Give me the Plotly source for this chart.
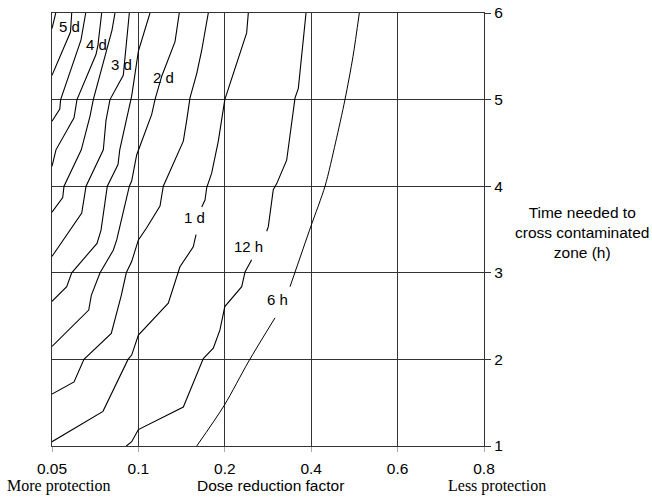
import plotly.graph_objects as go

# ---- axes ----
x_tick_pos = [0, 1, 2, 3, 4, 5]
x_tick_labels = ["0.05", "0.1", "0.2", "0.4", "0.6", "0.8"]   # dose reduction factor
y_tick_pos = [1, 2, 3, 4, 5, 6]                               # hours

# ---- iso-dose curves (x in tick-position units, y = hours; None = label gap) ----
l0_x = [0.0, 0.043]
l0_y = [5.82, 6.0]
l1_x = [0.228, 0.214, 0.0]                                   # 5 d
l1_y = [6.0, 5.78, 5.28]
l2_x = [0.390, 0.336, 0.100, 0.090, 0.0]
l2_y = [6.0, 5.69, 5.0, 4.89, 4.75]
l3_x = [0.575, 0.532, 0.509, 0.289, 0.255, 0.046, 0.0]       # 4 d
l3_y = [6.0, 5.63, 5.52, 5.0, 4.79, 4.42, 4.23]
l4_x = [0.729, 0.694, 0.478, 0.440, 0.339, 0.139, 0.124, 0.0]
l4_y = [6.0, 5.80, 5.0, 4.81, 4.42, 4.0, 3.87, 3.70]
l5_x = [0.895, 0.850, 0.825, 0.671, 0.625, 0.594, 0.394, 0.344, 0.0]   # 3 d
l5_y = [6.0, 5.52, 5.28, 5.0, 4.76, 4.42, 4.0, 3.69, 3.19]
l6_x = [1.134, 1.0, 0.922, 0.784, 0.764, 0.640, 0.567, 0.521, 0.228, 0.170, 0.0]
l6_y = [6.0, 5.56, 5.04, 4.42, 4.25, 4.0, 3.49, 3.34, 3.0, 2.84, 2.67]
l7_x = [1.473, 1.424, 1.270, 1.192, 1.154, 1.038, 0.980, 0.922, 0.895,
        0.749, 0.709, 0.556, 0.455, 0.425, 0.0]              # 2 d
l7_y = [6.0, 5.67, 5.27, 5.0, 4.83, 4.52, 4.36, 4.06, 4.0,
        3.38, 3.26, 3.0, 2.74, 2.57, 2.15]
l8_x = [1.809, 1.733, 1.675, 1.597, 1.559, 1.520, 1.288, 1.250, 1.096,
        1.0, 0.922, 0.860, 0.802, 0.686, 0.370, 0.255, 0.0]
l8_y = [6.0, 5.57, 5.30, 5.02, 4.76, 4.52, 4.0, 3.77, 3.52,
        3.38, 3.13, 3.0, 2.74, 2.30, 2.0, 1.74, 1.60]
l9_x = [2.272, 2.253, 2.0, 1.925, 1.848, 1.790, 1.771, 1.733, None,
        1.667, 1.635, 1.481, 1.462, 1.346, 1.0, 0.922, 0.880, 0.590, 0.0]   # 1 d
l9_y = [6.0, 5.77, 5.0, 4.52, 4.15, 3.98, 3.84, 3.76, None,
        3.44, 3.30, 3.07, 3.01, 2.65, 2.28, 2.05, 2.0, 1.40, 1.05]
l10_x = [2.940, 2.851, 2.813, 2.716, 2.601, 2.561, 2.503, 2.485, None,
         2.311, 2.234, 2.196, 2.0, 1.944, 1.867, 1.751, 1.713, 1.520, 1.0, 0.922, 0.860]  # 12 h
l10_y = [6.0, 5.13, 5.02, 4.30, 4.03, 3.96, 3.53, 3.48, None,
         3.15, 3.01, 2.84, 2.61, 2.34, 2.13, 2.01, 1.92, 1.45, 1.19, 1.05, 1.0]
l11_x = [3.557, 3.484, 3.391, 3.281, 3.160, 2.994, 2.755, None,
         2.581, 2.272, 1.994, 1.675]                         # 6 h
l11_y = [6.0, 5.50, 5.0, 4.50, 4.0, 3.53, 2.84, None,
         2.48, 1.97, 1.47, 1.0]

curve_labels = ["5 d", "4 d", "3 d", "2 d", "1 d", "12 h", "6 h"]

SANS = "Liberation Sans, Arial, Helvetica, sans-serif"
SERIF = "Liberation Serif, Times New Roman, serif"
GRID = "#333333"

fig = go.Figure()
poly = [(l0_x, l0_y), (l1_x, l1_y), (l2_x, l2_y), (l3_x, l3_y), (l4_x, l4_y),
        (l5_x, l5_y), (l6_x, l6_y), (l7_x, l7_y), (l8_x, l8_y), (l9_x, l9_y),
        (l10_x, l10_y)]
for xs, ys in poly:
    fig.add_trace(go.Scatter(x=xs, y=ys, mode="lines",
                             line=dict(color="black", width=1.1),
                             hoverinfo="skip", showlegend=False))
fig.add_trace(go.Scatter(x=l11_x, y=l11_y, mode="lines",
                         line=dict(color="black", width=1.0, shape="spline", smoothing=0.8),
                         hoverinfo="skip", showlegend=False))

label_pos = [(0.208, 5.84), (0.515, 5.64), (0.81, 5.40), (1.285, 5.26),
             (1.644, 3.633), (2.280, 3.309), (2.610, 2.697)]
for txt, (lx, ly) in zip(curve_labels, label_pos):
    fig.add_annotation(x=lx, y=ly, xref="x", yref="y", text=txt, showarrow=False,
                       xanchor="center", yanchor="middle",
                       font=dict(family=SANS, size=15, color="black"))

fig.add_annotation(x=1.228, y=0.494, xref="paper", yref="paper",
                   text="Time needed to<br>cross contaminated<br>zone (h)",
                   showarrow=False, align="center", xanchor="center", yanchor="middle",
                   font=dict(family=SANS, size=15.5, color="black"))
fig.add_annotation(x=0.505, y=-0.092, xref="paper", yref="paper",
                   text="Dose reduction factor", showarrow=False,
                   xanchor="center", yanchor="middle",
                   font=dict(family=SANS, size=15.5, color="black"))
fig.add_annotation(x=0.016, y=-0.092, xref="paper", yref="paper",
                   text="More protection", showarrow=False,
                   xanchor="center", yanchor="middle",
                   font=dict(family=SERIF, size=16, color="black"))
fig.add_annotation(x=1.031, y=-0.092, xref="paper", yref="paper",
                   text="Less protection", showarrow=False,
                   xanchor="center", yanchor="middle",
                   font=dict(family=SERIF, size=16, color="black"))

fig.update_xaxes(range=[0, 5], tickmode="array", tickvals=x_tick_pos, ticktext=x_tick_labels,
                 automargin=False, showspikes=False,
                 showgrid=True, gridcolor=GRID, gridwidth=1.4, zeroline=False,
                 showline=True, linecolor=GRID, linewidth=1.4, mirror=True,
                 ticks="outside", ticklen=5, tickcolor="#aaaaaa", tickwidth=1,
                 ticklabelstandoff=3,
                 tickfont=dict(family=SANS, size=15.5, color="black"))
fig.update_yaxes(range=[1, 6], tickmode="array", tickvals=y_tick_pos,
                 automargin=False, showspikes=False,
                 side="right", showgrid=True, gridcolor=GRID, gridwidth=1.4, zeroline=False,
                 showline=True, linecolor=GRID, linewidth=1.4, mirror=True,
                 ticks="outside", ticklen=6, tickcolor=GRID, tickwidth=1,
                 tickfont=dict(family=SANS, size=15.5, color="black"))
fig.update_layout(width=652, height=497, margin=dict(l=52, r=168, t=13, b=51, autoexpand=False),
                  paper_bgcolor="white", plot_bgcolor="white", showlegend=False,
                  hovermode=False, dragmode=False)

fig.write_html("out.html", config={"displayModeBar": False},
               post_script="document.body.style.margin='0';document.body.style.overflow='hidden';")
